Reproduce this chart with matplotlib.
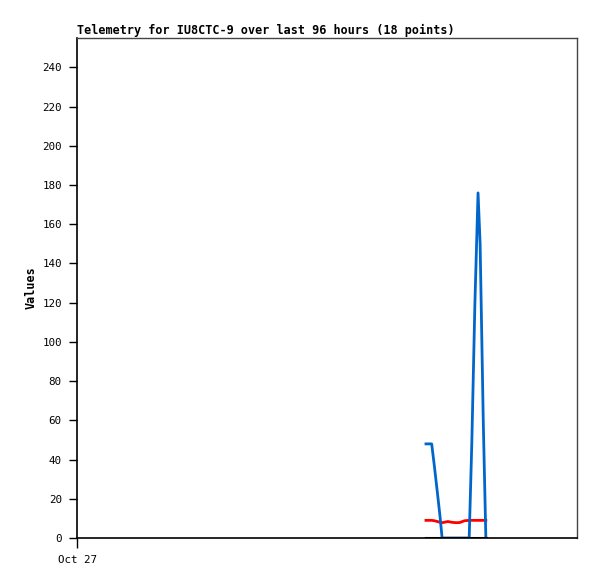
import matplotlib
matplotlib.use('Agg')
import matplotlib.pyplot as plt
import numpy as np

# hours since Oct 27 00:00
hours = [67.0, 68.1, 68.6, 69.2, 69.7, 70.1, 71.2, 72.0, 72.8, 73.5, 74.4, 75.3, 75.8, 76.4, 77.0, 77.4, 78.0, 78.5]
blue_vals = [48, 48, 37, 23, 11, 0, 0, 0, 0, 0, 0, 0, 48, 120, 176, 150, 60, 0]
red_vals = [9, 9, 8.8, 8.4, 8.0, 7.8, 8.4, 8.0, 7.8, 7.9, 8.8, 9, 9, 9, 9, 9, 9, 9]
black_vals = [0] * 18

ylim_top = 255
yticks = np.arange(0, 241, 20)

fig = plt.figure(figsize=(5.97, 5.79), dpi=100)
ax = fig.add_axes([77/597, 41/579, 500/597, 500/579])

ax.plot(hours, red_vals, color='#ff0000', lw=2)
ax.plot(hours, blue_vals, color='#0066cc', lw=2)
ax.plot(hours, black_vals, color='black', lw=2.2)

ax.set_xlim(0, 96)
ax.set_ylim(0, ylim_top)
ax.set_yticks(yticks)
ax.set_yticklabels([str(v) for v in yticks], family='DejaVu Sans Mono', fontsize=7.8)
ax.set_xticks([0])
ax.set_xticklabels(['Oct 27'], family='DejaVu Sans Mono', fontsize=7.8)
ax.tick_params(axis='both', direction='out', length=6, width=1, pad=5)
ax.tick_params(axis='x', length=7)

for s in ['top', 'right']:
    ax.spines[s].set_color('#444444')
    ax.spines[s].set_linewidth(1)
for s in ['left', 'bottom']:
    ax.spines[s].set_linewidth(1.2)

ax.set_ylabel('Values', family='DejaVu Sans Mono', fontsize=8.5, fontweight='bold', labelpad=3)
ax.set_title('Telemetry for IU8CTC-9 over last 96 hours (18 points)', loc='left',
             family='DejaVu Sans Mono', fontsize=8.45, fontweight='bold', pad=3)

fig.savefig('out.png', dpi=100)
